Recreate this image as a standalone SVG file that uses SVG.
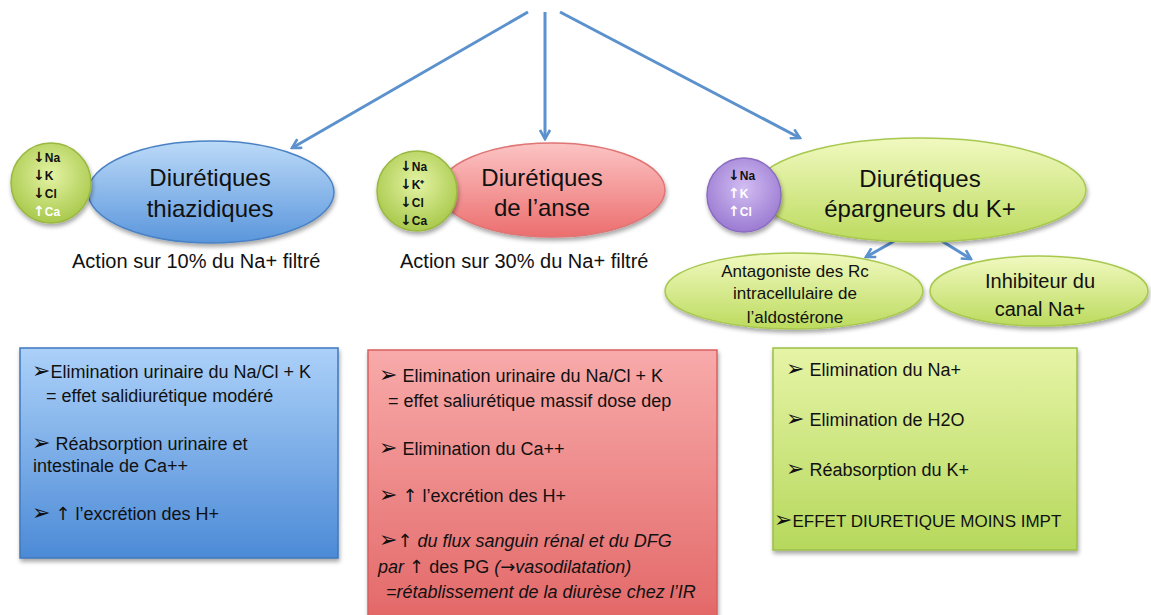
<svg xmlns="http://www.w3.org/2000/svg" width="1151" height="615" viewBox="0 0 1151 615">
<defs>
<linearGradient id="gBlueE" x1="0" y1="0" x2="0" y2="1"><stop offset="0" stop-color="#bcdaf8"/><stop offset="1" stop-color="#5a96dc"/></linearGradient>
<linearGradient id="gRedE" x1="0" y1="0" x2="0" y2="1"><stop offset="0" stop-color="#fcc4c4"/><stop offset="1" stop-color="#ec6e6e"/></linearGradient>
<linearGradient id="gGreenE" x1="0" y1="0" x2="0" y2="1"><stop offset="0" stop-color="#f1f9c0"/><stop offset="1" stop-color="#bcdb5e"/></linearGradient>
<radialGradient id="gCirc" cx="0.5" cy="0.4" r="0.6"><stop offset="0" stop-color="#e4f3a4"/><stop offset="1" stop-color="#a9c94c"/></radialGradient>
<radialGradient id="gPurp" cx="0.5" cy="0.4" r="0.6"><stop offset="0" stop-color="#d2bdf2"/><stop offset="1" stop-color="#9b7bd2"/></radialGradient>
<linearGradient id="gBlueB" x1="0" y1="0" x2="0" y2="1"><stop offset="0" stop-color="#acd1f9"/><stop offset="1" stop-color="#4c8ad6"/></linearGradient>
<linearGradient id="gRedB" x1="0" y1="0" x2="0" y2="1"><stop offset="0" stop-color="#f8aaaa"/><stop offset="1" stop-color="#e36868"/></linearGradient>
<linearGradient id="gGreenB" x1="0" y1="0" x2="0" y2="1"><stop offset="0" stop-color="#e6f4a6"/><stop offset="1" stop-color="#b6d85c"/></linearGradient>
<filter id="sh" x="-10%" y="-10%" width="125%" height="130%"><feDropShadow dx="1" dy="3" stdDeviation="2" flood-color="#000" flood-opacity="0.35"/></filter>
<marker id="ah" viewBox="0 0 12 12" refX="10" refY="6" markerWidth="12" markerHeight="12" markerUnits="userSpaceOnUse" orient="auto">
<polyline points="1,1 10,6 1,11" fill="none" stroke="#5b91cc" stroke-width="2.6"/>
</marker>
</defs>
<style>
text{font-family:"Liberation Sans",Arial,sans-serif;fill:#111;}
.t{font-size:24px;text-anchor:middle;}
.a{font-size:20px;}
.s{font-size:12px;font-weight:bold;}
.w{fill:#fff;}
.b{font-size:18px;}
.i{font-style:italic;}
.ar{font-family:"DejaVu Sans",sans-serif;}
.sa{font-family:"DejaVu Sans",sans-serif;font-size:14px;font-weight:bold;}
.bu{font-family:"DejaVu Sans",sans-serif;font-size:22px;}
.c{stroke:#5b91cc;stroke-width:3;fill:none;marker-end:url(#ah);}
.sub{font-size:17px;text-anchor:middle;}
.sub2{font-size:20px;text-anchor:middle;}
</style>
<g id="connectors">
<line class="c" x1="528" y1="12" x2="292" y2="148"/>
<line class="c" x1="545" y1="12" x2="545" y2="139"/>
<line class="c" x1="560" y1="12" x2="800" y2="138"/>
<line class="c" x1="905" y1="235" x2="866" y2="257"/>
<line class="c" x1="932" y1="235" x2="971" y2="259"/>
</g>
<g id="thiazidiques">
<ellipse cx="211" cy="192" rx="123" ry="51" fill="url(#gBlueE)" stroke="#4a82c4" stroke-width="1.5" filter="url(#sh)"/>
<circle cx="51" cy="183" r="40" fill="url(#gCirc)" stroke="#9ab840" stroke-width="1.5" filter="url(#sh)"/>
<text class="s" x="33" y="162"><tspan class="sa">↓</tspan>Na</text>
<text class="s" x="33" y="180"><tspan class="sa">↓</tspan>K</text>
<text class="s" x="33" y="198"><tspan class="sa">↓</tspan>Cl</text>
<text class="s w" x="33" y="216"><tspan class="sa">↑</tspan>Ca</text>
<text class="t" x="210" y="186">Diurétiques</text>
<text class="t" x="210" y="217">thiazidiques</text>
<text class="a" x="72" y="268">Action sur 10% du Na+ filtré</text>
</g>
<g id="anse">
<ellipse cx="552" cy="190" rx="113" ry="47" fill="url(#gRedE)" stroke="#e07474" stroke-width="1.5" filter="url(#sh)"/>
<circle cx="417" cy="191" r="40" fill="url(#gCirc)" stroke="#9ab840" stroke-width="1.5" filter="url(#sh)"/>
<text class="s" x="400" y="171"><tspan class="sa">↓</tspan>Na</text>
<text class="s" x="400" y="189"><tspan class="sa">↓</tspan>K⁺</text>
<text class="s" x="400" y="207"><tspan class="sa">↓</tspan>Cl</text>
<text class="s" x="400" y="225"><tspan class="sa">↓</tspan>Ca</text>
<text class="t" x="542" y="186">Diurétiques</text>
<text class="t" x="542" y="216">de l’anse</text>
<text class="a" x="400" y="268">Action sur 30% du Na+ filtré</text>
</g>
<g id="epargneurs">
<ellipse cx="920" cy="190" rx="166" ry="52" fill="url(#gGreenE)" stroke="#a8c850" stroke-width="1.5" filter="url(#sh)"/>
<circle cx="744" cy="195" r="37" fill="url(#gPurp)" stroke="#8a6cc0" stroke-width="1.5" filter="url(#sh)"/>
<text class="s" x="728" y="180"><tspan class="sa">↓</tspan>Na</text>
<text class="s w" x="728" y="198"><tspan class="sa">↑</tspan>K</text>
<text class="s w" x="728" y="216"><tspan class="sa">↑</tspan>Cl</text>
<text class="t" x="920" y="187">Diurétiques</text>
<text class="t" x="920" y="217">épargneurs du K+</text>
</g>
<g id="antagoniste">
<ellipse cx="794" cy="291" rx="129" ry="38" fill="url(#gGreenE)" stroke="#a8c850" stroke-width="1.5" filter="url(#sh)"/>
<text class="sub" x="795" y="277">Antagoniste des Rc</text>
<text class="sub" x="795" y="299">intracellulaire de</text>
<text class="sub" x="795" y="323">l’aldostérone</text>
</g>
<g id="inhibiteur">
<ellipse cx="1039" cy="291" rx="109" ry="35" fill="url(#gGreenE)" stroke="#a8c850" stroke-width="1.5" filter="url(#sh)"/>
<text class="sub2" x="1040" y="288">Inhibiteur du</text>
<text class="sub2" x="1040" y="316">canal Na+</text>
</g>
<g id="box-thiazidiques">
<rect x="20" y="348" width="318" height="210" fill="url(#gBlueB)" stroke="#3f78bd" stroke-width="1.5" filter="url(#sh)"/>
<text class="b" x="32" y="378"><tspan class="bu">➢</tspan>Elimination urinaire du Na/Cl + K</text>
<text class="b" x="46" y="402">= effet salidiurétique modéré</text>
<text class="b" x="32" y="450"><tspan class="bu">➢</tspan> Réabsorption urinaire et</text>
<text class="b" x="33" y="472">intestinale de Ca++</text>
<text class="b" x="32" y="520"><tspan class="bu">➢</tspan> <tspan class="ar">↑</tspan> l’excrétion des H+</text>
</g>
<g id="box-anse">
<rect x="368" y="350" width="349" height="270" fill="url(#gRedB)" stroke="#d86060" stroke-width="1.5" filter="url(#sh)"/>
<text class="b" x="379" y="382"><tspan class="bu">➢</tspan> Elimination urinaire du Na/Cl + K</text>
<text class="b" x="388" y="407">= effet saliurétique massif dose dep</text>
<text class="b" x="379" y="455"><tspan class="bu">➢</tspan> Elimination du Ca++</text>
<text class="b" x="379" y="502"><tspan class="bu">➢</tspan> <tspan class="ar">↑</tspan> l’excrétion des H+</text>
<text class="b" x="379" y="547"><tspan class="bu">➢</tspan><tspan class="ar">↑</tspan> <tspan class="i">du flux sanguin rénal et du DFG</tspan></text>
<text class="b" x="378" y="573"><tspan class="i">par</tspan>  <tspan class="ar">↑</tspan> des PG <tspan class="i">(<tspan class="ar">→</tspan>vasodilatation)</tspan></text>
<text class="b i" x="386" y="598">=rétablissement de la diurèse chez l’IR</text>
</g>
<g id="box-epargneurs">
<rect x="773" y="348" width="304" height="202" fill="url(#gGreenB)" stroke="#9cbf48" stroke-width="1.5" filter="url(#sh)"/>
<text class="b" x="786" y="376"><tspan class="bu">➢</tspan> Elimination du Na+</text>
<text class="b" x="786" y="426"><tspan class="bu">➢</tspan> Elimination de H2O</text>
<text class="b" x="786" y="476"><tspan class="bu">➢</tspan> Réabsorption du K+</text>
<text class="b" x="774" y="527" style="font-size:17px"><tspan class="bu">➢</tspan>EFFET DIURETIQUE MOINS IMPT</text>
</g>
</svg>
